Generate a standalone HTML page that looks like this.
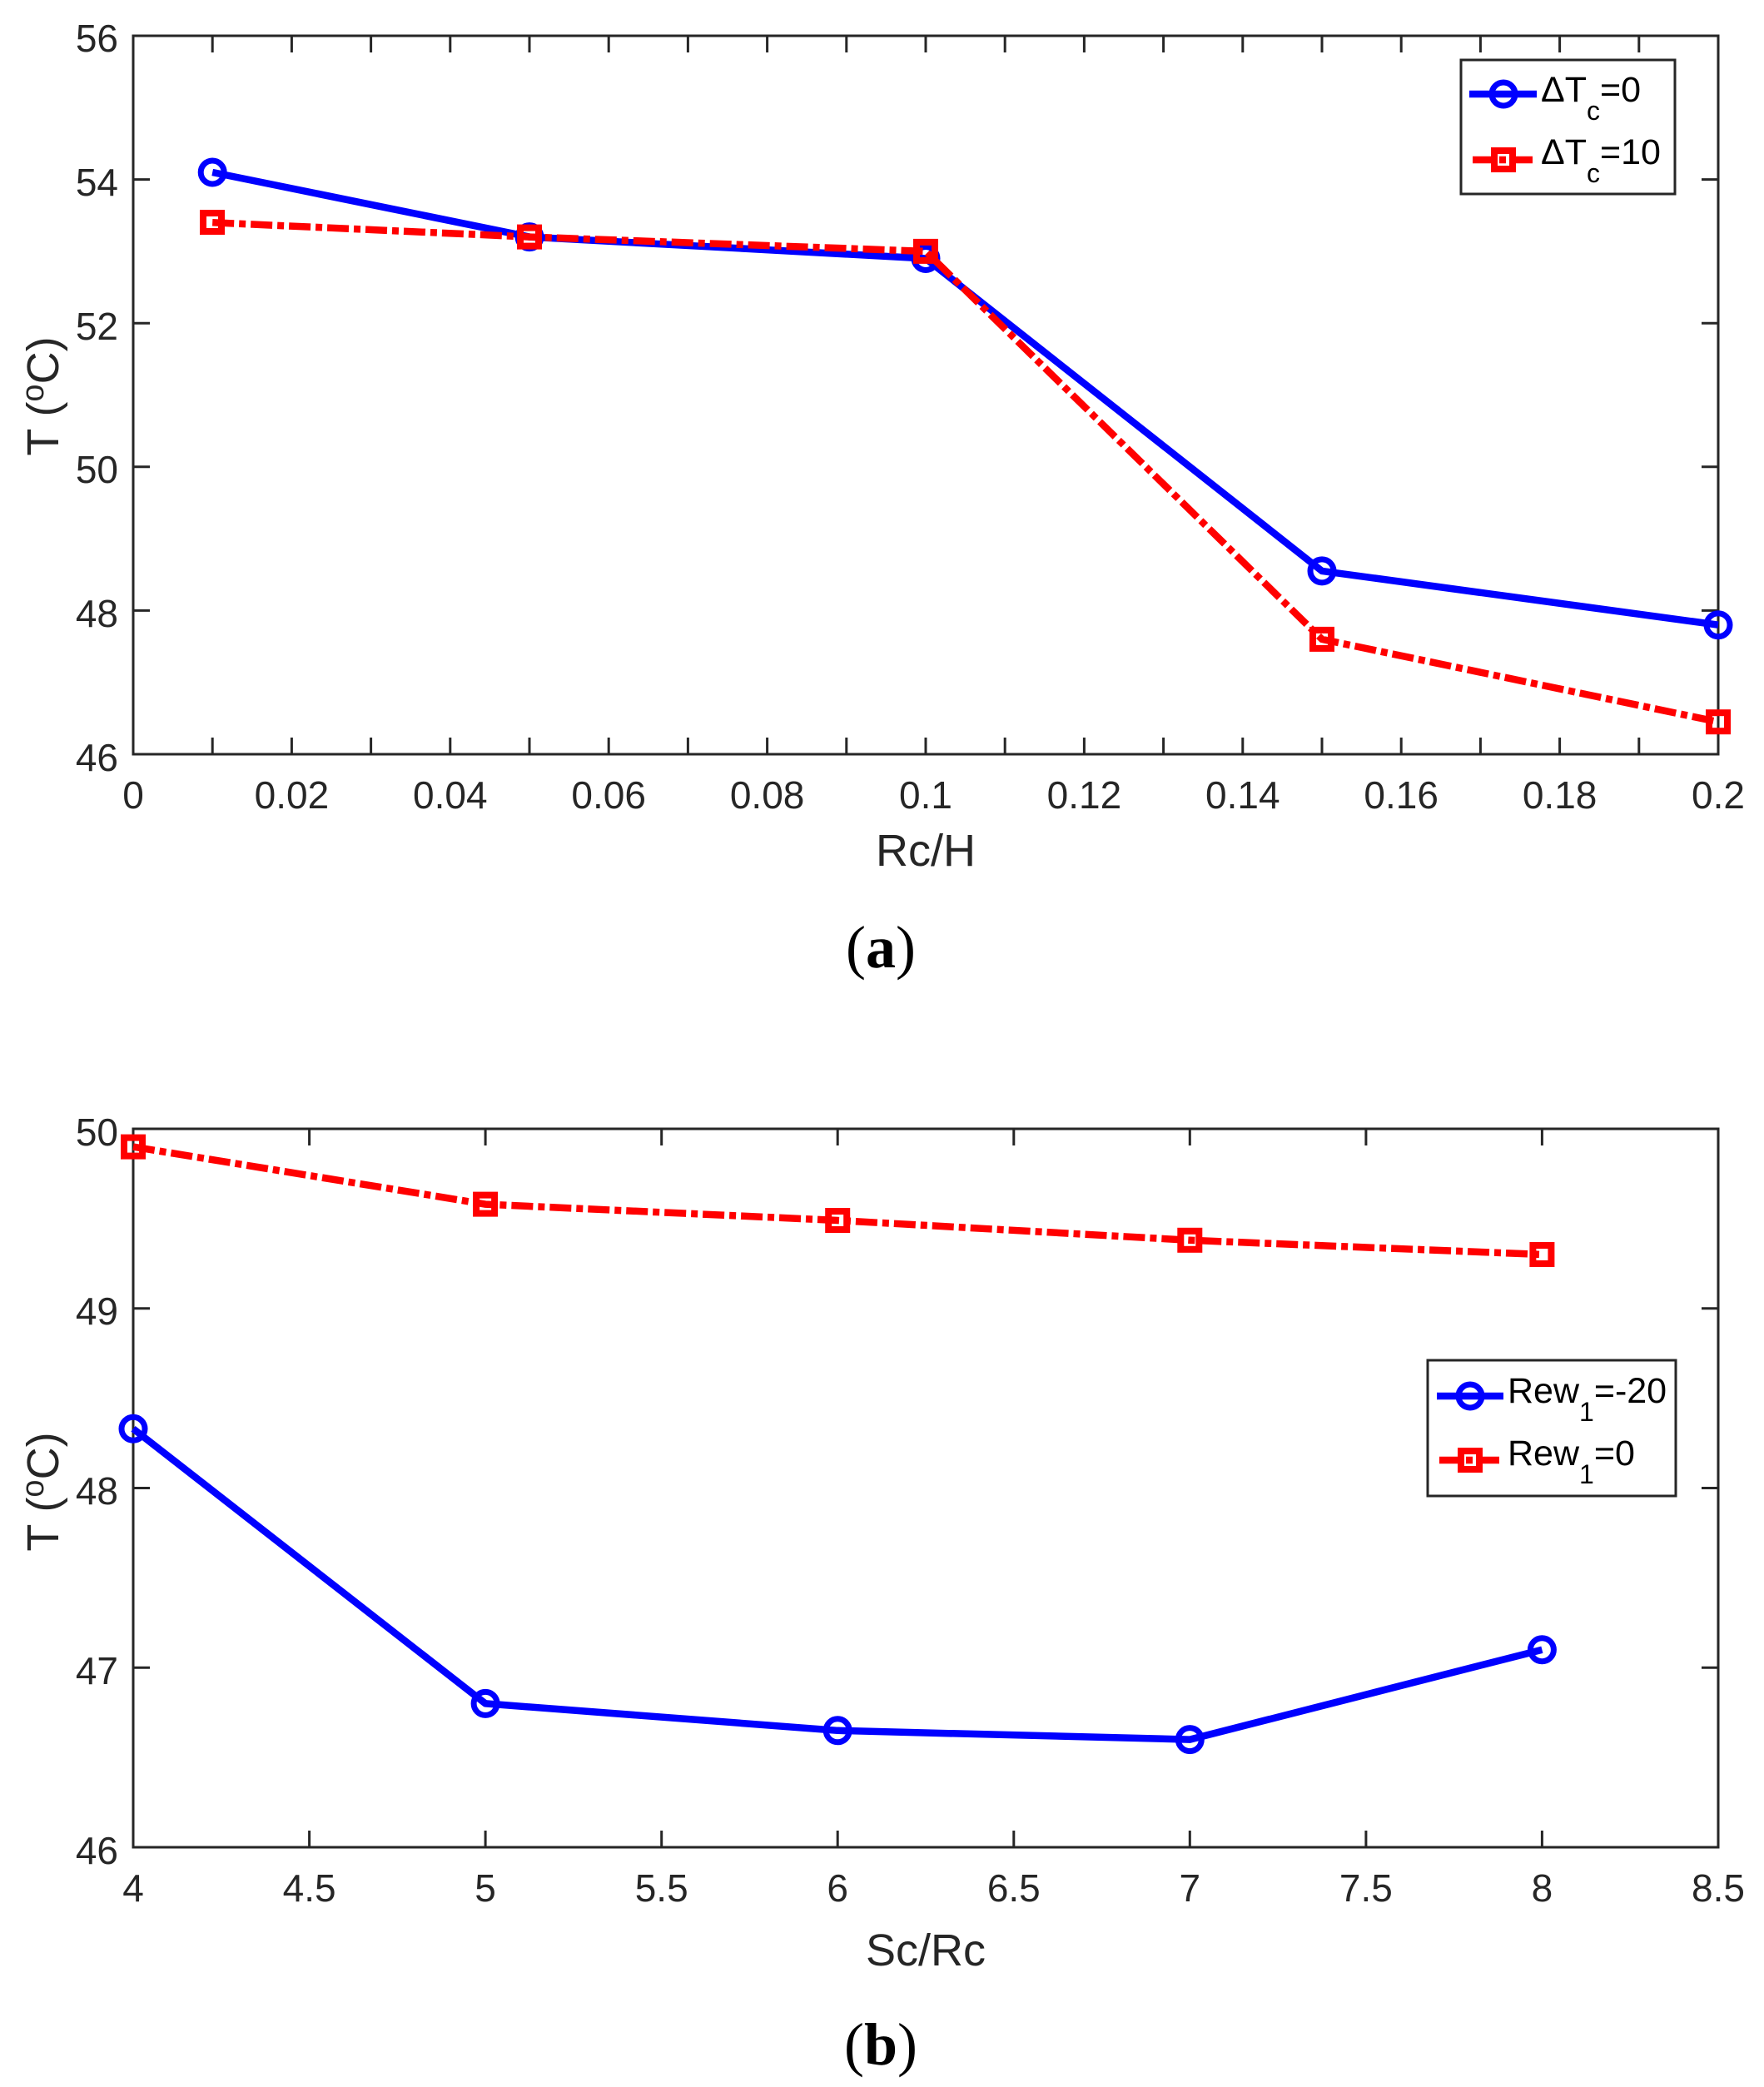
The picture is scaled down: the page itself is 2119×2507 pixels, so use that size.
<!DOCTYPE html>
<html><head><meta charset="utf-8"><style>
html,body{margin:0;padding:0;background:#fff}
svg{display:block}
text{font-family:"Liberation Sans",sans-serif;fill:#262626}
.t{font-size:46px}
.ax{font-size:54px}
.lg{font-size:43px;fill:#000}
.sub{font-size:32px;fill:#000}
.cap{font-family:"Liberation Serif",serif;font-size:72px;fill:#000}
</style></head><body>
<svg width="2119" height="2507" viewBox="0 0 2119 2507" xmlns="http://www.w3.org/2000/svg">
<rect width="2119" height="2507" fill="#fff"/>

<!-- ===== Plot (a) ===== -->
<g stroke="#262626" stroke-width="3" fill="none">
<rect x="160" y="43" width="1904" height="863"/>
<path d="M255.2 906v-20M350.4 906v-20M445.6 906v-20M540.8 906v-20M636 906v-20M731.2 906v-20M826.4 906v-20M921.6 906v-20M1016.8 906v-20M1112 906v-20M1207.2 906v-20M1302.4 906v-20M1397.6 906v-20M1492.8 906v-20M1588 906v-20M1683.2 906v-20M1778.4 906v-20M1873.6 906v-20M1968.8 906v-20
M255.2 43v20M350.4 43v20M445.6 43v20M540.8 43v20M636 43v20M731.2 43v20M826.4 43v20M921.6 43v20M1016.8 43v20M1112 43v20M1207.2 43v20M1302.4 43v20M1397.6 43v20M1492.8 43v20M1588 43v20M1683.2 43v20M1778.4 43v20M1873.6 43v20M1968.8 43v20
M160 733.4h20M160 560.8h20M160 388.2h20M160 215.6h20
M2064 733.4h-20M2064 560.8h-20M2064 388.2h-20M2064 215.6h-20"/>
</g>
<g text-anchor="end">
<text x="142" y="926" class="t">46</text>
<text x="142" y="753" class="t">48</text>
<text x="142" y="580" class="t">50</text>
<text x="142" y="408" class="t">52</text>
<text x="142" y="235" class="t">54</text>
<text x="142" y="62" class="t">56</text>
</g>
<g text-anchor="middle">
<text x="160" y="971" class="t">0</text>
<text x="350.4" y="971" class="t">0.02</text>
<text x="540.8" y="971" class="t">0.04</text>
<text x="731.2" y="971" class="t">0.06</text>
<text x="921.6" y="971" class="t">0.08</text>
<text x="1112" y="971" class="t">0.1</text>
<text x="1302.4" y="971" class="t">0.12</text>
<text x="1492.8" y="971" class="t">0.14</text>
<text x="1683.2" y="971" class="t">0.16</text>
<text x="1873.6" y="971" class="t">0.18</text>
<text x="2064" y="971" class="t">0.2</text>
<text x="1112" y="1040" class="ax">Rc/H</text>
</g>
<text transform="translate(70,476) rotate(-90)" text-anchor="middle" class="ax">T (<tspan dy="-18" font-size="38">o</tspan><tspan dy="18">C)</tspan></text>
<text x="1058" y="1162" text-anchor="middle" class="cap">(<tspan font-weight="bold">a</tspan>)</text>

<!-- series a -->
<polyline points="255.2,207 636,284.6 1112,310.5 1588,685.9 2064,750.7" fill="none" stroke="#0000ff" stroke-width="8.5" stroke-linejoin="round"/>
<g fill="none" stroke="#0000ff" stroke-width="7">
<circle cx="255.2" cy="207" r="14"/><circle cx="636" cy="284.6" r="14"/><circle cx="1112" cy="310.5" r="14"/><circle cx="1588" cy="685.9" r="14"/><circle cx="2064" cy="750.7" r="14"/>
</g>
<polyline points="255.2,267.3 636,284.6 1112,301.9 1588,767.9 2064,867.2" fill="none" stroke="#ff0000" stroke-width="8.5" stroke-dasharray="26 6 8 6"/>
<g fill="none" stroke="#ff0000" stroke-width="8">
<rect x="244" y="256" width="22" height="22"/><rect x="625" y="273.6" width="22" height="22"/><rect x="1101" y="290.9" width="22" height="22"/><rect x="1577" y="756.9" width="22" height="22"/><rect x="2053" y="856.2" width="22" height="22"/>
</g>
<!-- legend a -->
<rect x="1755" y="72" width="257" height="161" fill="#fff" stroke="#262626" stroke-width="3"/>
<line x1="1765" y1="113" x2="1846" y2="113" stroke="#0000ff" stroke-width="8.5"/>
<circle cx="1806" cy="113" r="14" fill="none" stroke="#0000ff" stroke-width="7"/>
<line x1="1769" y1="192" x2="1842" y2="192" stroke="#ff0000" stroke-width="8.5" stroke-dasharray="26 6 8 6"/>
<rect x="1795" y="181" width="22" height="22" fill="none" stroke="#ff0000" stroke-width="8"/>
<text x="1851" y="122" class="lg">ΔT<tspan class="sub" dy="22">c</tspan><tspan dy="-22">=0</tspan></text>
<text x="1851" y="197" class="lg">ΔT<tspan class="sub" dy="22">c</tspan><tspan dy="-22">=10</tspan></text>

<!-- ===== Plot (b) ===== -->
<g stroke="#262626" stroke-width="3" fill="none">
<rect x="160" y="1356" width="1904" height="863"/>
<path d="M371.6 2219v-20M583.1 2219v-20M794.7 2219v-20M1006.2 2219v-20M1217.8 2219v-20M1429.3 2219v-20M1640.9 2219v-20M1852.4 2219v-20
M371.6 1356v20M583.1 1356v20M794.7 1356v20M1006.2 1356v20M1217.8 1356v20M1429.3 1356v20M1640.9 1356v20M1852.4 1356v20
M160 2003.25h20M160 1787.5h20M160 1571.75h20
M2064 2003.25h-20M2064 1787.5h-20M2064 1571.75h-20"/>
</g>
<g text-anchor="end">
<text x="142" y="2239" class="t">46</text>
<text x="142" y="2023" class="t">47</text>
<text x="142" y="1807" class="t">48</text>
<text x="142" y="1591" class="t">49</text>
<text x="142" y="1376" class="t">50</text>
</g>
<g text-anchor="middle">
<text x="160" y="2284" class="t">4</text>
<text x="371.6" y="2284" class="t">4.5</text>
<text x="583.1" y="2284" class="t">5</text>
<text x="794.7" y="2284" class="t">5.5</text>
<text x="1006.2" y="2284" class="t">6</text>
<text x="1217.8" y="2284" class="t">6.5</text>
<text x="1429.3" y="2284" class="t">7</text>
<text x="1640.9" y="2284" class="t">7.5</text>
<text x="1852.4" y="2284" class="t">8</text>
<text x="2064" y="2284" class="t">8.5</text>
<text x="1112" y="2361" class="ax">Sc/Rc</text>
</g>
<text transform="translate(70,1792) rotate(-90)" text-anchor="middle" class="ax">T (<tspan dy="-18" font-size="38">o</tspan><tspan dy="18">C)</tspan></text>
<text x="1058" y="2480" text-anchor="middle" class="cap">(<tspan font-weight="bold">b</tspan>)</text>

<!-- series b -->
<polyline points="160,1716.3 583.1,2046.4 1006.2,2078.8 1429.3,2089.6 1852.4,1981.7" fill="none" stroke="#0000ff" stroke-width="8.5" stroke-linejoin="round"/>
<g fill="none" stroke="#0000ff" stroke-width="7">
<circle cx="160" cy="1716.3" r="14"/><circle cx="583.1" cy="2046.4" r="14"/><circle cx="1006.2" cy="2078.8" r="14"/><circle cx="1429.3" cy="2089.6" r="14"/><circle cx="1852.4" cy="1981.7" r="14"/>
</g>
<polyline points="160,1377.6 583.1,1446.6 1006.2,1466 1429.3,1489.8 1852.4,1507" fill="none" stroke="#ff0000" stroke-width="8.5" stroke-dasharray="26 6 8 6"/>
<g fill="none" stroke="#ff0000" stroke-width="8">
<rect x="149" y="1366.6" width="22" height="22"/><rect x="572.1" y="1435.6" width="22" height="22"/><rect x="995.2" y="1455" width="22" height="22"/><rect x="1418.3" y="1478.8" width="22" height="22"/><rect x="1841.4" y="1496" width="22" height="22"/>
</g>
<!-- legend b -->
<rect x="1715" y="1634" width="298" height="163" fill="#fff" stroke="#262626" stroke-width="3"/>
<line x1="1726" y1="1677" x2="1806" y2="1677" stroke="#0000ff" stroke-width="8.5"/>
<circle cx="1766" cy="1677" r="14" fill="none" stroke="#0000ff" stroke-width="7"/>
<line x1="1729" y1="1754" x2="1803" y2="1754" stroke="#ff0000" stroke-width="8.5" stroke-dasharray="26 6 8 6"/>
<rect x="1755" y="1743" width="22" height="22" fill="none" stroke="#ff0000" stroke-width="8"/>
<text x="1811" y="1685" class="lg">Rew<tspan class="sub" dy="22">1</tspan><tspan dy="-22">=-20</tspan></text>
<text x="1811" y="1760" class="lg">Rew<tspan class="sub" dy="22">1</tspan><tspan dy="-22">=0</tspan></text>
</svg>
</body></html>
